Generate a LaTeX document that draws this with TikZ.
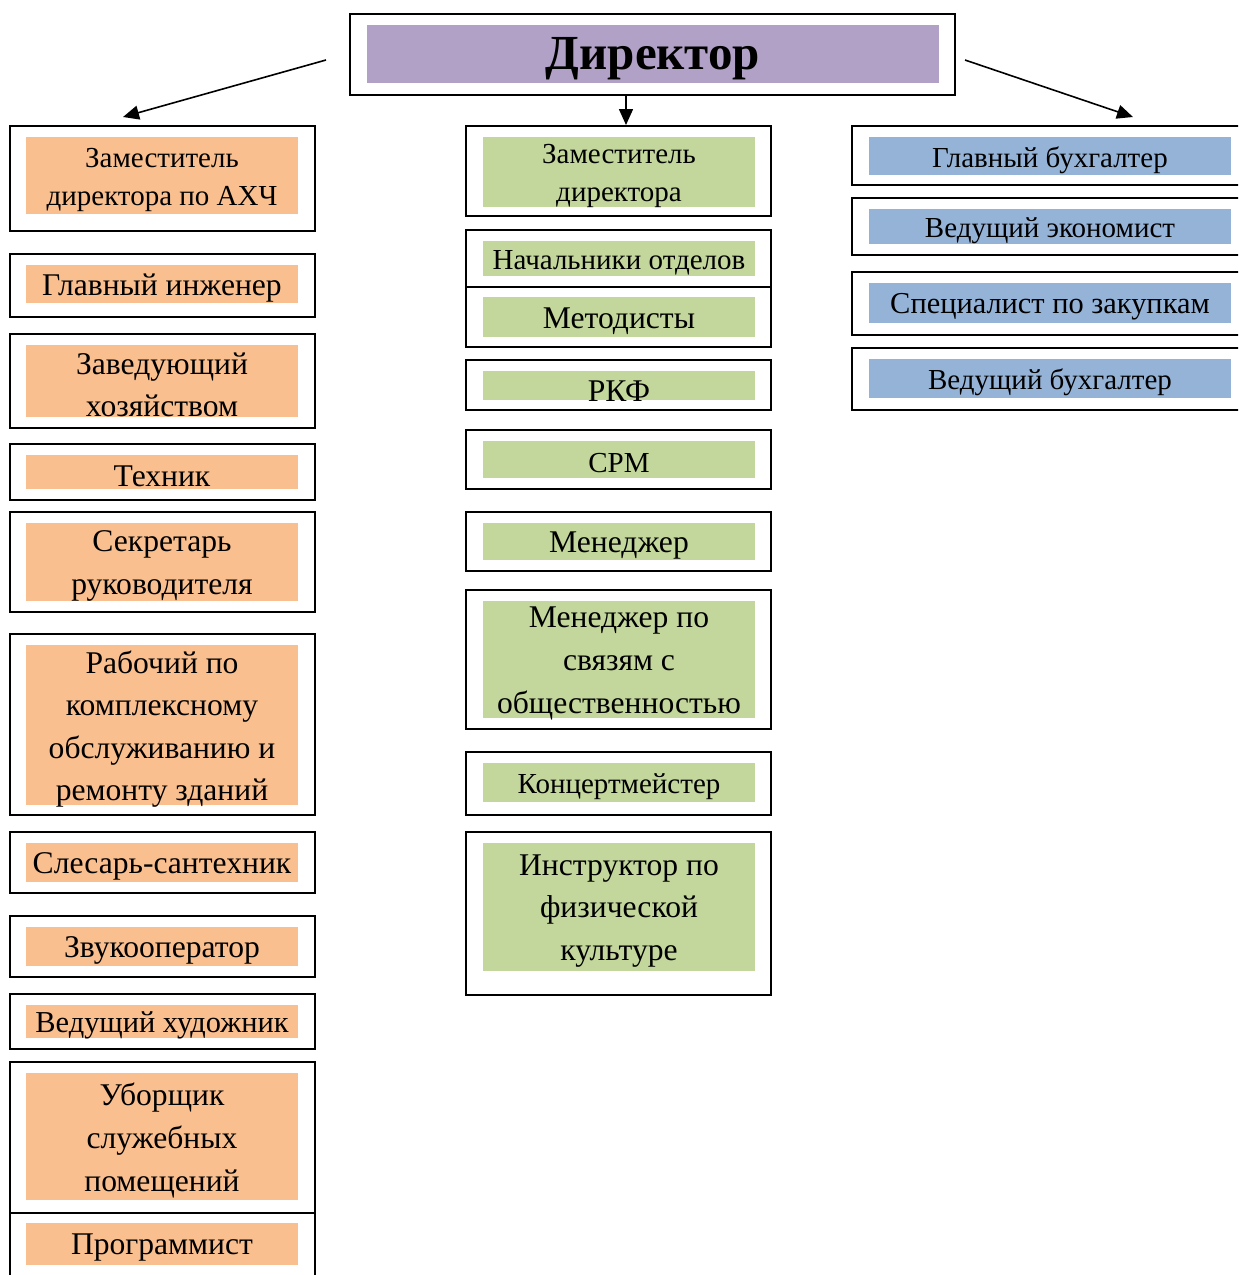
\documentclass[tikz,border=0pt]{standalone}
\usepackage{fontspec}
\setmainfont{Liberation Serif}
\usepackage{tikz}
\usetikzlibrary{arrows.meta,fit}
\definecolor{dirpurple}{HTML}{B2A1C7}
\definecolor{ahchorange}{HTML}{FABF8F}
\definecolor{metodgreen}{HTML}{C3D69B}
\definecolor{buhblue}{HTML}{95B3D7}
\tikzset{
  staffbox/.style={draw, line width=1pt, inner sep=0pt},
  ahch/.style={fill=ahchorange, draw=none, inner sep=0pt},
  metod/.style={fill=metodgreen, draw=none, inner sep=0pt},
  buh/.style={fill=buhblue, draw=none, inner sep=0pt},
  big/.style={font=\fontsize{15.8}{21.3}\selectfont},
  small/.style={font=\fontsize{14.5}{19}\selectfont},
  mid/.style={font=\fontsize{15.2}{19}\selectfont},
  stafftext/.style={align=center, inner sep=0pt, yshift=-2pt},
  conn/.style={-{Triangle[length=8pt,width=7pt]}, line width=0.8pt}
}
% name, fill style, outer corners, fill corners, text; optional font style
\newcommand{\staff}[6][big]{%
  \node[staffbox, fit={#4}] (#2) {};
  \node[#3, fit={#5}] (#2F) {};
  \node[stafftext, #1] at (#2F) {#6};}

\begin{document}
\begin{tikzpicture}[x=0.5pt, y=-0.5pt]
  \useasboundingbox (0,0) rectangle (1238,1275);
  \clip (0,0) rectangle (1238,1275);

  % director
  \node[staffbox, fit={(350,14)(955,95)}] (dir) {};
  \node[fill=dirpurple, inner sep=0pt, fit={(367,25)(939,83)}] (dirF) {};
  \node[font=\fontsize{24.5}{28}\selectfont\bfseries, yshift=-2.5pt] at (dirF) {Директор};

  % left column
  \staff[small]{zamAhch}{ahch}{(10,126)(315,231)}{(26,137)(298,214)}{Заместитель\\директора по АХЧ}
  \staff{glIng}{ahch}{(10,254)(315,317)}{(26,265)(298,303)}{Главный инженер}
  \staff{zavHoz}{ahch}{(10,334)(315,428)}{(26,345)(298,417)}{Заведующий\\хозяйством}
  \staff{tehnik}{ahch}{(10,444)(315,500)}{(26,455)(298,489)}{Техник}
  \staff{sekr}{ahch}{(10,512)(315,612)}{(26,523)(298,601)}{Секретарь\\руководителя}
  \staff{rabochiy}{ahch}{(10,634)(315,815)}{(26,645)(298,805)}{Рабочий по\\комплексному\\обслуживанию и\\ремонту зданий}
  \staff{slesar}{ahch}{(10,832)(315,893)}{(26,843)(298,882)}{Слесарь-сантехник}
  \staff{zvuk}{ahch}{(10,916)(315,977)}{(26,927)(298,966)}{Звукооператор}
  \staff[mid]{hudozh}{ahch}{(10,994)(315,1049)}{(26,1005)(298,1038)}{Ведущий художник}
  \staff{uborsh}{ahch}{(10,1062)(315,1213)}{(26,1073)(298,1200)}{Уборщик\\служебных\\помещений}
  \staff{programm}{ahch}{(10,1213)(315,1290)}{(26,1223)(298,1265)}{Программист}

  % middle column
  \staff[small]{zamDir}{metod}{(466,126)(771,216)}{(483,137)(755,207)}{Заместитель\\директора}
  \staff[small]{nachOtd}{metod}{(466,230)(771,287)}{(483,241)(755,276)}{Начальники отделов}
  \staff{metodist}{metod}{(466,287)(771,347)}{(483,297)(755,337)}{Методисты}
  \staff[{big, yshift=-1pt}]{rkf}{metod}{(466,360)(771,410)}{(483,371)(755,400)}{РКФ}
  \staff[small]{srm}{metod}{(466,430)(771,489)}{(483,441)(755,478)}{СРМ}
  \staff{menedzh}{metod}{(466,512)(771,571)}{(483,523)(755,560)}{Менеджер}
  \staff{pr}{metod}{(466,590)(771,729)}{(483,601)(755,718)}{Менеджер по\\связям с\\общественностью}
  \staff[small]{koncert}{metod}{(466,752)(771,815)}{(483,763)(755,802)}{Концертмейстер}
  \staff{instr}{metod}{(466,832)(771,995)}{(483,843)(755,971)}{Инструктор по\\физической\\культуре}

  % right column
  \staff[small]{glBuh}{buh}{(852,126)(1250,185)}{(869,137)(1231,175)}{Главный бухгалтер}
  \staff[small]{vedEkon}{buh}{(852,198)(1250,255)}{(869,209)(1231,244)}{Ведущий экономист}
  \staff[mid]{specZak}{buh}{(852,272)(1250,335)}{(869,283)(1231,323)}{Специалист по закупкам}
  \staff[small]{vedBuh}{buh}{(852,348)(1250,410)}{(869,359)(1231,398)}{Ведущий бухгалтер}

  % arrows
  \coordinate (dirLeft) at (326,60);
  \coordinate (dirRight) at (965,60);
  \coordinate (dirDown) at (626,95);
  \coordinate (ahchIn) at (123,117);
  \coordinate (metodIn) at (626,125);
  \coordinate (buhIn) at (1133,117);
  \draw[conn] (dirLeft) -- (ahchIn);
  \draw[conn] (dirDown) -- (metodIn);
  \draw[conn] (dirRight) -- (buhIn);
\end{tikzpicture}
\end{document}
